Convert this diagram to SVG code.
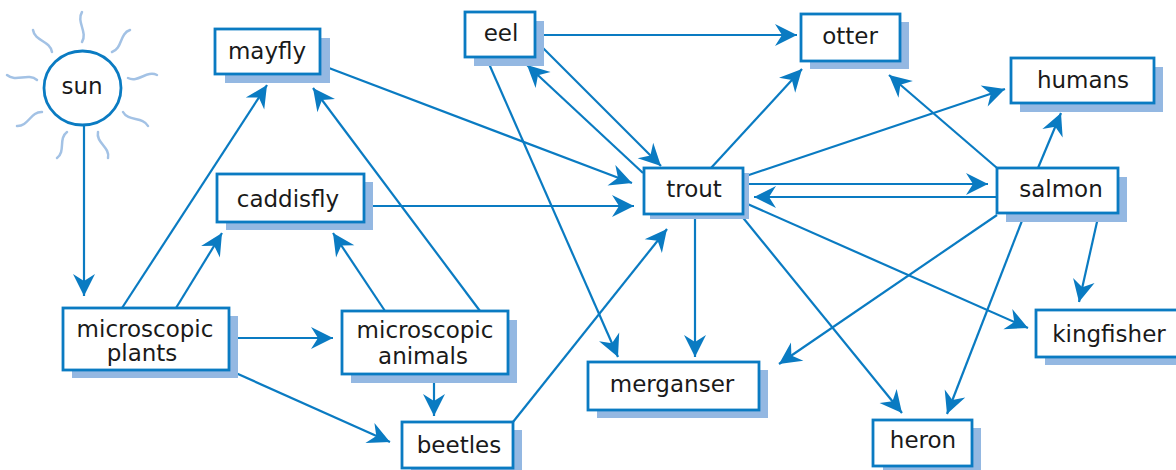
<svg xmlns="http://www.w3.org/2000/svg" width="1176" height="470" viewBox="0 0 1176 470">
<style>
.box{fill:#ffffff;stroke:#0a7bc2;stroke-width:2.8}
.sh{fill:#94b8e2}
.lbl{font-family:"DejaVu Sans","Liberation Sans",sans-serif;font-size:23px;fill:#1a1a1a;text-anchor:middle}
.con{stroke:#0a7bc2;stroke-width:2.2;fill:none;marker-end:url(#ah)}
.ray{stroke:#a3c2e5;stroke-width:2.5;fill:none;stroke-linecap:round}
</style>
<defs>
<marker id="ah" markerUnits="userSpaceOnUse" markerWidth="26" markerHeight="26" viewBox="-24 -13 26 26" refX="0" refY="0" orient="auto">
<path d="M0,0 L-22,-11 L-15,0 L-22,11 Z" fill="#0a7bc2"/>
</marker>
</defs>
<rect width="1176" height="470" fill="#ffffff"/>

<g id="connectors">
<line class="con" x1="84" y1="125" x2="84" y2="296"/>
<line class="con" x1="122" y1="308" x2="267" y2="85"/>
<line class="con" x1="176" y1="308" x2="222" y2="233"/>
<line class="con" x1="229" y1="338" x2="333" y2="338"/>
<line class="con" x1="229" y1="370" x2="390" y2="442"/>
<line class="con" x1="480" y1="311" x2="313" y2="88"/>
<line class="con" x1="385" y1="311" x2="333" y2="233"/>
<line class="con" x1="434" y1="374" x2="434" y2="416"/>
<line class="con" x1="321" y1="65" x2="632" y2="183"/>
<line class="con" x1="364" y1="206" x2="634" y2="206"/>
<line class="con" x1="513" y1="422" x2="667" y2="229"/>
<line class="con" x1="535" y1="35" x2="797" y2="35"/>
<line class="con" x1="535" y1="40" x2="661" y2="166"/>
<line class="con" x1="643" y1="173" x2="527" y2="65"/>
<line class="con" x1="486" y1="57" x2="618" y2="357"/>
<line class="con" x1="711" y1="168" x2="802" y2="69"/>
<line class="con" x1="743" y1="177" x2="1005" y2="89"/>
<line class="con" x1="743" y1="184" x2="988" y2="184"/>
<line class="con" x1="997" y1="197" x2="754" y2="197"/>
<line class="con" x1="695" y1="214" x2="695" y2="357"/>
<line class="con" x1="740" y1="214" x2="902" y2="413"/>
<line class="con" x1="743" y1="202" x2="1028" y2="328"/>
<line class="con" x1="997" y1="168" x2="889" y2="75"/>
<line class="con" x1="1038" y1="168" x2="1061" y2="113"/>
<line class="con" x1="997" y1="215" x2="779" y2="364"/>
<line class="con" x1="1025" y1="213" x2="947" y2="414"/>
<line class="con" x1="1099" y1="213" x2="1079" y2="302"/>
</g>

<g id="sun">
<path class="ray" d="M82,12 C76,22 88,32 82,42"/>
<path class="ray" d="M33,30 C34.8,41.3 50.2,40.7 52,52"/>
<path class="ray" d="M130,30 C119.3,33.5 122.7,48.5 112,52"/>
<path class="ray" d="M7,75 C16,82.6 28,72.4 37,80"/>
<path class="ray" d="M128,78 C138.3,83 146.7,70 157,75"/>
<path class="ray" d="M17,126 C28.3,126.6 30.7,111.4 42,112"/>
<path class="ray" d="M123,112 C128.4,121.9 142.6,116.1 148,126"/>
<path class="ray" d="M57,158 C65.9,151.5 58.1,138.5 67,132"/>
<path class="ray" d="M98,132 C95.7,142.8 110.3,147.2 108,158"/>
<ellipse cx="82.5" cy="88" rx="38.5" ry="37" fill="#ffffff" stroke="#0a7bc2" stroke-width="2.8"/>
<text class="lbl" x="82" y="94">sun</text>
</g>

<g id="mayfly">
<rect class="sh" x="225" y="38" width="105" height="45"/>
<rect class="box" x="215" y="29" width="105" height="45"/>
<text class="lbl" x="267" y="59">mayfly</text>
</g>

<g id="caddisfly">
<rect class="sh" x="226" y="182" width="147" height="48"/>
<rect class="box" x="217" y="174" width="147" height="48"/>
<text class="lbl" x="288" y="207">caddisfly</text>
</g>

<g id="eel">
<rect class="sh" x="474" y="21" width="70" height="45"/>
<rect class="box" x="465" y="12" width="70" height="45"/>
<text class="lbl" x="501" y="41">eel</text>
</g>

<g id="otter">
<rect class="sh" x="810" y="22" width="99" height="47"/>
<rect class="box" x="801" y="14" width="99" height="47"/>
<text class="lbl" x="850" y="44">otter</text>
</g>

<g id="humans">
<rect class="sh" x="1020" y="67" width="143" height="45"/>
<rect class="box" x="1011" y="58" width="143" height="45"/>
<text class="lbl" x="1083" y="88">humans</text>
</g>

<g id="trout">
<rect class="sh" x="650" y="173" width="99" height="46"/>
<rect class="box" x="644" y="168" width="99" height="46"/>
<text class="lbl" x="694" y="197">trout</text>
</g>

<g id="salmon">
<rect class="sh" x="1006" y="177" width="121" height="45"/>
<rect class="box" x="997" y="168" width="121" height="45"/>
<text class="lbl" x="1061" y="197">salmon</text>
</g>

<g id="microscopic-plants">
<rect class="sh" x="72" y="316" width="166" height="62"/>
<rect class="box" x="63" y="308" width="166" height="62"/>
<text class="lbl" x="145" y="337">microscopic</text>
<text class="lbl" x="142" y="361">plants</text>
</g>

<g id="microscopic-animals">
<rect class="sh" x="351" y="320" width="166" height="63"/>
<rect class="box" x="342" y="311" width="166" height="63"/>
<text class="lbl" x="425" y="338">microscopic</text>
<text class="lbl" x="423" y="364">animals</text>
</g>

<g id="beetles">
<rect class="sh" x="411" y="430" width="111" height="46"/>
<rect class="box" x="402" y="422" width="111" height="46"/>
<text class="lbl" x="459" y="453">beetles</text>
</g>

<g id="merganser">
<rect class="sh" x="597" y="370" width="171" height="48"/>
<rect class="box" x="588" y="362" width="171" height="48"/>
<text class="lbl" x="672" y="392">merganser</text>
</g>

<g id="heron">
<rect class="sh" x="883" y="428" width="98" height="46"/>
<rect class="box" x="873" y="420" width="99" height="46"/>
<text class="lbl" x="923" y="448">heron</text>
</g>

<g id="kingfisher">
<rect class="sh" x="1045" y="318" width="140" height="47"/>
<rect class="box" x="1036" y="310" width="150" height="47"/>
<text class="lbl" x="1109" y="342">kingfisher</text>
</g>
</svg>
